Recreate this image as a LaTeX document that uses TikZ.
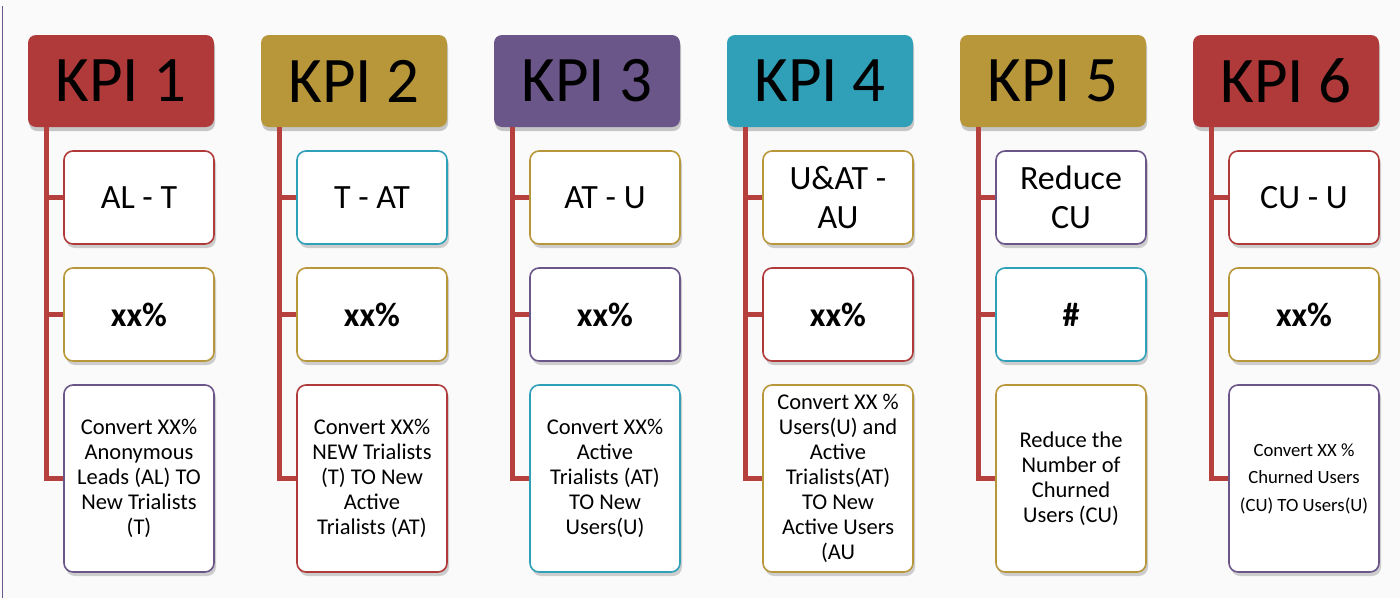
\documentclass[tikz,border=0pt]{standalone}
\usepackage{fontspec}
\setmainfont{Carlito}
\usepackage{xcolor}
\usepackage{tikz}
\usetikzlibrary{shadows}

\definecolor{kred}{RGB}{176,58,58}
\definecolor{kgold}{RGB}{184,150,58}
\definecolor{kpurple}{RGB}{107,86,137}
\definecolor{kteal}{RGB}{48,159,184}
\definecolor{kline}{RGB}{181,64,61}

\begin{document}
\begin{tikzpicture}[x=1pt,y=-1pt,
    kpihead/.style={fill=#1,rounded corners=8pt,minimum width=186pt,minimum height=92pt,
        inner sep=0pt,text=black,font=\fontsize{65}{70}\selectfont,
        drop shadow={shadow xshift=1pt,shadow yshift=-4pt,opacity=.35,fill=black!60}},
    kpibox/.style={draw=#1,line width=1.6pt,fill=white,rounded corners=9pt,
        minimum width=150pt,minimum height=93pt,inner sep=0pt,align=center,
        font=\fontsize{34}{39}\selectfont,
        drop shadow={shadow xshift=2pt,shadow yshift=-4pt,opacity=.3,fill=black!60}},
    tallbox/.style={kpibox=#1,minimum height=187pt,font=\fontsize{22.5}{25}\selectfont},
    trunk/.style={kline,line width=5pt}]
\useasboundingbox (0,0) rectangle (1400,598);
\fill[black!2] (0,0) rectangle (1400,598);
\draw[kpurple,line width=1pt] (2,6) -- (2,598);

% KPI 1
\begin{scope}
    \node[kpihead=kred] (k1) at (121,81) {KPI 1};
    \node[kpibox=kred] (k1a) at (139,197.5) {AL - T};
    \node[kpibox=kgold] (k1b) at (139,314.5) {\textbf{xx\%}};
    \node[tallbox=kpurple] (k1c) at (139,478.5) {Convert XX\%\\Anonymous\\Leads (AL) TO\\New Trialists\\(T)};
    \draw[trunk] ([xshift=19pt]k1.south west) |- (k1c.west);
    \draw[trunk] ([xshift=19pt]k1.south west |- k1a.west) -- (k1a.west);
    \draw[trunk] ([xshift=19pt]k1.south west |- k1b.west) -- (k1b.west);
\end{scope}

% KPI 2
\begin{scope}[xshift=233pt]
    \node[kpihead=kgold] (k2) at (121,81) {KPI 2};
    \node[kpibox=kteal] (k2a) at (139,197.5) {T - AT};
    \node[kpibox=kgold] (k2b) at (139,314.5) {\textbf{xx\%}};
    \node[tallbox=kred] (k2c) at (139,478.5) {Convert XX\%\\NEW Trialists\\(T) TO New\\Active\\Trialists (AT)};
    \draw[trunk] ([xshift=19pt]k2.south west) |- (k2c.west);
    \draw[trunk] ([xshift=19pt]k2.south west |- k2a.west) -- (k2a.west);
    \draw[trunk] ([xshift=19pt]k2.south west |- k2b.west) -- (k2b.west);
\end{scope}

% KPI 3
\begin{scope}[xshift=466pt]
    \node[kpihead=kpurple] (k3) at (121,81) {KPI 3};
    \node[kpibox=kgold] (k3a) at (139,197.5) {AT - U};
    \node[kpibox=kpurple] (k3b) at (139,314.5) {\textbf{xx\%}};
    \node[tallbox=kteal] (k3c) at (139,478.5) {Convert XX\%\\Active\\Trialists (AT)\\TO New\\Users(U)};
    \draw[trunk] ([xshift=19pt]k3.south west) |- (k3c.west);
    \draw[trunk] ([xshift=19pt]k3.south west |- k3a.west) -- (k3a.west);
    \draw[trunk] ([xshift=19pt]k3.south west |- k3b.west) -- (k3b.west);
\end{scope}

% KPI 4
\begin{scope}[xshift=699pt]
    \node[kpihead=kteal] (k4) at (121,81) {KPI 4};
    \node[kpibox=kgold] (k4a) at (139,197.5) {U\&AT -\\AU};
    \node[kpibox=kred] (k4b) at (139,314.5) {\textbf{xx\%}};
    \node[tallbox=kgold] (k4c) at (139,478.5) {Convert XX \%\\Users(U) and\\Active\\Trialists(AT)\\TO New\\Active Users\\(AU};
    \draw[trunk] ([xshift=19pt]k4.south west) |- (k4c.west);
    \draw[trunk] ([xshift=19pt]k4.south west |- k4a.west) -- (k4a.west);
    \draw[trunk] ([xshift=19pt]k4.south west |- k4b.west) -- (k4b.west);
\end{scope}

% KPI 5
\begin{scope}[xshift=932pt]
    \node[kpihead=kgold] (k5) at (121,81) {KPI 5};
    \node[kpibox=kpurple] (k5a) at (139,197.5) {Reduce\\CU};
    \node[kpibox=kteal] (k5b) at (139,314.5) {\textbf{\#}};
    \node[tallbox=kgold] (k5c) at (139,478.5) {Reduce the\\Number of\\Churned\\Users (CU)};
    \draw[trunk] ([xshift=19pt]k5.south west) |- (k5c.west);
    \draw[trunk] ([xshift=19pt]k5.south west |- k5a.west) -- (k5a.west);
    \draw[trunk] ([xshift=19pt]k5.south west |- k5b.west) -- (k5b.west);
\end{scope}

% KPI 6
\begin{scope}[xshift=1165pt]
    \node[kpihead=kred] (k6) at (121,81) {KPI 6};
    \node[kpibox=kred] (k6a) at (139,197.5) {CU - U};
    \node[kpibox=kgold] (k6b) at (139,314.5) {\textbf{xx\%}};
    \node[tallbox=kpurple,font=\fontsize{18.7}{27.5}\selectfont] (k6c) at (139,478.5) {Convert XX \%\\Churned Users\\(CU) TO Users(U)};
    \draw[trunk] ([xshift=19pt]k6.south west) |- (k6c.west);
    \draw[trunk] ([xshift=19pt]k6.south west |- k6a.west) -- (k6a.west);
    \draw[trunk] ([xshift=19pt]k6.south west |- k6b.west) -- (k6b.west);
\end{scope}
\end{tikzpicture}
\end{document}
